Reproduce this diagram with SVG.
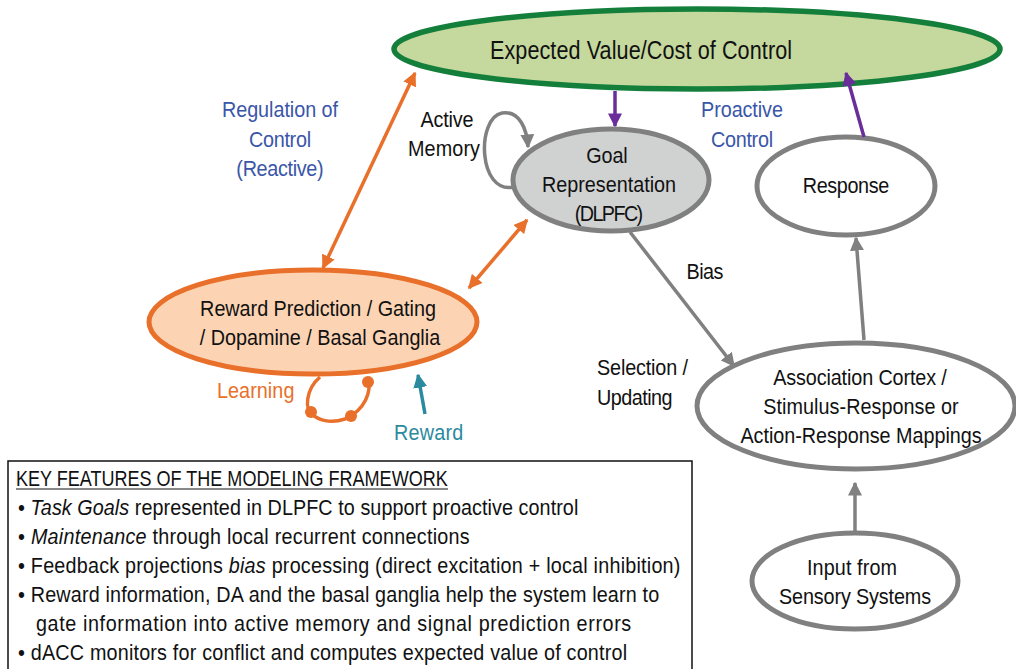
<svg xmlns="http://www.w3.org/2000/svg" width="1016" height="669" viewBox="0 0 1016 669">
<style>
text{font-family:"Liberation Sans",Arial,sans-serif;fill:#111;font-size:22px}
.m{text-anchor:middle}
.blue{fill:#3a56a8}
.leg{font-size:21.5px}
.g{fill:#fff;stroke:#808080;stroke-width:5}
.gl{stroke:#808080;stroke-width:3.5;fill:none}
.ol{stroke:#e8702a;stroke-width:3.5;fill:none}
.pl{stroke:#6a2e9b;stroke-width:3.5;fill:none}
</style>
<defs>
<marker id="ao" viewBox="0 0 10 10" refX="9" refY="5" markerWidth="4" markerHeight="4" orient="auto-start-reverse" markerUnits="strokeWidth"><path d="M0,0L10,5L0,10z" fill="#e8702a"/></marker>
<marker id="ag" viewBox="0 0 10 10" refX="9" refY="5" markerWidth="4" markerHeight="4" orient="auto-start-reverse" markerUnits="strokeWidth"><path d="M0,0L10,5L0,10z" fill="#808080"/></marker>
<marker id="ap" viewBox="0 0 10 10" refX="9" refY="5" markerWidth="4" markerHeight="4" orient="auto" markerUnits="strokeWidth"><path d="M0,0L10,5L0,10z" fill="#6a2e9b"/></marker>
<marker id="at" viewBox="0 0 10 10" refX="9" refY="5" markerWidth="4" markerHeight="4" orient="auto" markerUnits="strokeWidth"><path d="M0,0L10,5L0,10z" fill="#2b8aa0"/></marker>
</defs>
<rect width="1016" height="669" fill="#fff"/>

<g id="ev">
<ellipse cx="697" cy="49" rx="303" ry="40" fill="#c5d89d" stroke="#137f3b" stroke-width="5.5"/>
<text class="m" transform="translate(641,59) scale(0.83,1)" style="font-size:26px" textLength="364" lengthAdjust="spacing">Expected Value/Cost of Control</text>
</g>

<g id="goal">
<ellipse cx="611" cy="180" rx="98" ry="51" fill="#d0d1d1" stroke="#808080" stroke-width="5"/>
<text class="m" transform="translate(607,163) scale(0.9,1)" textLength="46" lengthAdjust="spacing">Goal</text>
<text class="m" transform="translate(609,192) scale(0.9,1)" textLength="149" lengthAdjust="spacing">Representation</text>
<text class="m" transform="translate(609,221) scale(0.9,1)" textLength="76" lengthAdjust="spacing">(DLPFC)</text>
</g>

<g id="response">
<ellipse class="g" cx="846" cy="186" rx="89" ry="49"/>
<text class="m" transform="translate(846,193) scale(0.9,1)" textLength="96" lengthAdjust="spacing">Response</text>
</g>

<g id="reward">
<ellipse cx="313" cy="322" rx="164" ry="52" fill="#fcd4b4" stroke="#e8702a" stroke-width="5"/>
<text class="m" transform="translate(318,316) scale(0.9,1)" textLength="262" lengthAdjust="spacing">Reward Prediction / Gating</text>
<text class="m" transform="translate(320,345) scale(0.9,1)" textLength="267" lengthAdjust="spacing">/ Dopamine / Basal Ganglia</text>
</g>

<g id="association">
<ellipse class="g" cx="856" cy="406" rx="159" ry="63"/>
<text class="m" transform="translate(860,385) scale(0.9,1)" textLength="193" lengthAdjust="spacing">Association Cortex /</text>
<text class="m" transform="translate(861,414) scale(0.9,1)" textLength="217" lengthAdjust="spacing">Stimulus-Response or</text>
<text class="m" transform="translate(861,443) scale(0.9,1)" textLength="268" lengthAdjust="spacing">Action-Response Mappings</text>
</g>

<g id="input">
<ellipse class="g" cx="855" cy="581" rx="103" ry="48"/>
<text class="m" transform="translate(852,575) scale(0.9,1)" textLength="100" lengthAdjust="spacing">Input from</text>
<text class="m" transform="translate(855,604) scale(0.9,1)" textLength="169" lengthAdjust="spacing">Sensory Systems</text>
</g>

<g id="labels">
<text class="m blue" transform="translate(280,117) scale(0.9,1)" textLength="129" lengthAdjust="spacing">Regulation of</text>
<text class="m blue" transform="translate(280,147) scale(0.9,1)" textLength="69" lengthAdjust="spacing">Control</text>
<text class="m blue" transform="translate(280,176) scale(0.9,1)" textLength="97" lengthAdjust="spacing">(Reactive)</text>
<text class="m" transform="translate(447,127) scale(0.9,1)" textLength="59" lengthAdjust="spacing">Active</text>
<text class="m" transform="translate(444,156) scale(0.9,1)" textLength="80" lengthAdjust="spacing">Memory</text>
<text class="m blue" transform="translate(742,117) scale(0.9,1)" textLength="91" lengthAdjust="spacing">Proactive</text>
<text class="m blue" transform="translate(742,147) scale(0.9,1)" textLength="69" lengthAdjust="spacing">Control</text>
<text class="m" transform="translate(705,279) scale(0.9,1)" textLength="41" lengthAdjust="spacing">Bias</text>
<text transform="translate(597,375) scale(0.9,1)" textLength="101" lengthAdjust="spacing">Selection /</text>
<text transform="translate(597,405) scale(0.9,1)" textLength="84" lengthAdjust="spacing">Updating</text>
<text transform="translate(217,398) scale(0.9,1)" style="fill:#e8702a" textLength="86" lengthAdjust="spacing">Learning</text>
<text transform="translate(394,440) scale(0.9,1)" style="fill:#2b8aa0" textLength="77" lengthAdjust="spacing">Reward</text>
</g>

<g id="connectors">
<line class="ol" x1="415" y1="73" x2="323" y2="268" marker-start="url(#ao)" marker-end="url(#ao)"/>
<line class="ol" x1="527" y1="220" x2="469" y2="288" marker-start="url(#ao)" marker-end="url(#ao)"/>
<line class="pl" x1="615" y1="91" x2="615" y2="126" marker-end="url(#ap)"/>
<line class="pl" x1="864" y1="137" x2="846" y2="73" marker-end="url(#ap)"/>
<line class="gl" x1="630" y1="232" x2="734" y2="366" marker-end="url(#ag)"/>
<line class="gl" x1="864" y1="340" x2="856" y2="238" marker-end="url(#ag)"/>
<line class="gl" x1="855" y1="531" x2="855" y2="483" marker-end="url(#ag)"/>
<path class="gl" d="M514,187 C478,195 476,118 502,113 C520,110 527,130 528,147" marker-end="url(#ag)"/>
<path class="ol" d="M320,377 C305,390 305,410 312,414 C318,420 330,424 345,419 C365,410 372,392 368,377"/>
<circle cx="368" cy="382" r="6" fill="#e8702a"/>
<circle cx="311" cy="412" r="6" fill="#e8702a"/>
<circle cx="351" cy="416" r="6" fill="#e8702a"/>
<line x1="425" y1="414" x2="418" y2="375" stroke="#2b8aa0" stroke-width="3.5" marker-end="url(#at)"/>
</g>

<g id="legend">
<rect x="8" y="461" width="684" height="215" fill="#fff" stroke="#111" stroke-width="1.5"/>
<text class="leg" transform="translate(16,486) scale(0.84,1)" textLength="514" lengthAdjust="spacing">KEY FEATURES OF THE MODELING FRAMEWORK</text>
<line x1="16" y1="489" x2="448" y2="489" stroke="#111" stroke-width="1.2"/>
<text class="leg" transform="translate(18,515) scale(0.92,1)" textLength="609" lengthAdjust="spacing">• <tspan font-style="italic">Task Goals</tspan> represented in DLPFC to support proactive control</text>
<text class="leg" transform="translate(18,544) scale(0.92,1)" textLength="491" lengthAdjust="spacing">• <tspan font-style="italic">Maintenance</tspan> through local recurrent connections</text>
<text class="leg" transform="translate(18,573) scale(0.92,1)" textLength="720" lengthAdjust="spacing">• Feedback projections <tspan font-style="italic">bias</tspan> processing (direct excitation + local inhibition)</text>
<text class="leg" transform="translate(18,602) scale(0.92,1)" textLength="697" lengthAdjust="spacing">• Reward information, DA and the basal ganglia help the system learn to</text>
<text class="leg" transform="translate(36,631) scale(0.92,1)" textLength="647" lengthAdjust="spacing">gate information into active memory and signal prediction errors</text>
<text class="leg" transform="translate(18,660) scale(0.92,1)" textLength="662" lengthAdjust="spacing">• dACC monitors for conflict and computes expected value of control</text>
</g>
</svg>
